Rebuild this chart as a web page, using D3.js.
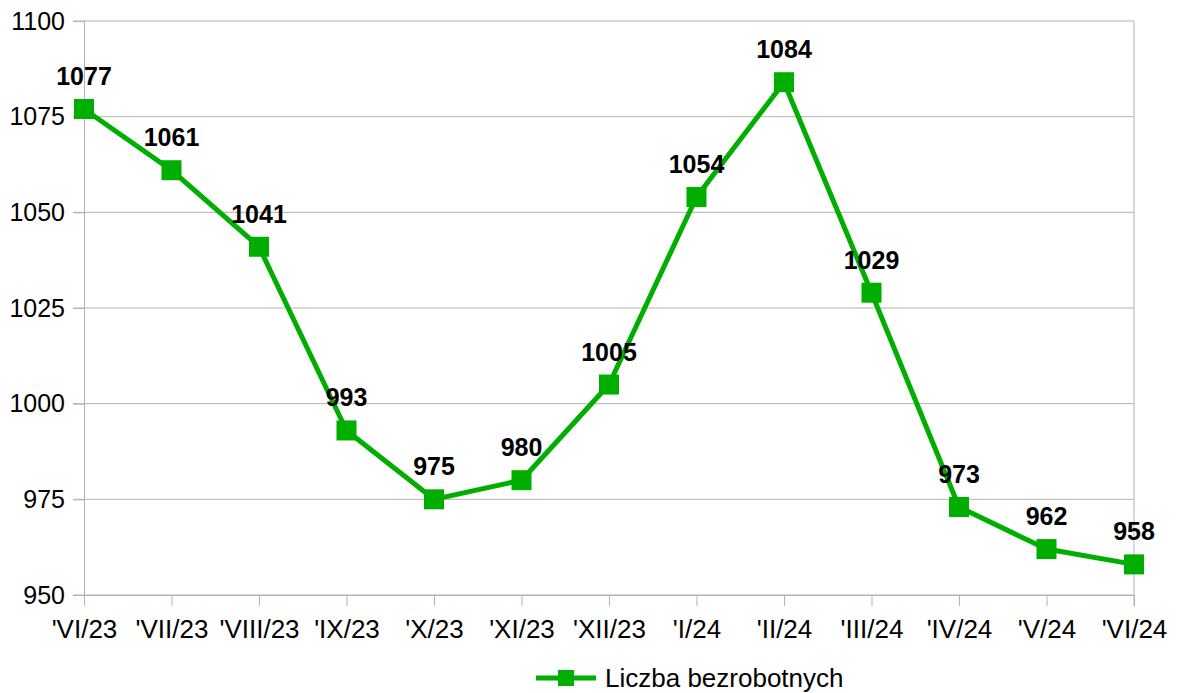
<!DOCTYPE html>
<html>
<head>
<meta charset="UTF-8">
<script src="https://d3js.org/d3.v7.min.js"></script>
<style>
  body { margin: 0; background: #fff; }
  text { font-family: "Liberation Sans", Arial, sans-serif; }
</style>
</head>
<body>
<div id="chart"></div>
<script>
// data
const months = ["'VI/23", "'VII/23", "'VIII/23", "'IX/23", "'X/23", "'XI/23", "'XII/23",
                "'I/24", "'II/24", "'III/24", "'IV/24", "'V/24", "'VI/24"];
const values = [1077, 1061, 1041, 993, 975, 980, 1005, 1054, 1084, 1029, 973, 962, 958];
const yTicks = [950, 975, 1000, 1025, 1050, 1075, 1100];
const seriesName = "Liczba bezrobotnych";

const width = 1177, height = 693;
const margin = {top: 21, right: 43, bottom: 98, left: 84};
const green = "#00ae00";

const svg = d3.select("#chart").append("svg")
  .attr("width", width)
  .attr("height", height);

const x = d3.scalePoint()
  .domain(months)
  .range([margin.left, width - margin.right]);

const y = d3.scaleLinear()
  .domain([950, 1100])
  .range([height - margin.bottom, margin.top]);

// horizontal grid
svg.append("g")
  .selectAll("line")
  .data(yTicks)
  .join("line")
    .attr("x1", margin.left - 11)
    .attr("x2", width - margin.right)
    .attr("y1", d => y(d))
    .attr("y2", d => y(d))
    .attr("stroke", "#b3b3b3")
    .attr("stroke-width", 1);

// y axis
const yAxis = svg.append("g")
  .attr("transform", `translate(${margin.left},0)`)
  .call(d3.axisLeft(y).tickValues(yTicks).tickFormat(d3.format("d")).tickSize(11).tickPadding(8));
yAxis.select(".domain").attr("stroke", "#b3b3b3");
yAxis.selectAll(".tick line").attr("stroke", "#b3b3b3");
yAxis.selectAll("text").attr("font-size", 25).attr("fill", "#000")
  .attr("font-family", "Liberation Sans, Arial, sans-serif");

// x axis
const xAxis = svg.append("g")
  .attr("transform", `translate(0,${height - margin.bottom})`)
  .call(d3.axisBottom(x).tickSize(11).tickPadding(14).tickSizeOuter(0));
xAxis.select(".domain").attr("stroke", "#b3b3b3");
xAxis.selectAll(".tick line").attr("stroke", "#b3b3b3");
xAxis.selectAll("text").attr("font-size", 26).attr("fill", "#000")
  .attr("font-family", "Liberation Sans, Arial, sans-serif");

// right border line
svg.append("line")
  .attr("x1", width - margin.right).attr("x2", width - margin.right)
  .attr("y1", margin.top).attr("y2", height - margin.bottom + 11)
  .attr("stroke", "#b3b3b3");

// series line
const line = d3.line()
  .x((d, i) => x(months[i]))
  .y(d => y(d));

svg.append("path")
  .datum(values)
  .attr("fill", "none")
  .attr("stroke", green)
  .attr("stroke-width", 5)
  .attr("stroke-linejoin", "round")
  .attr("d", line);

// markers
const ms = 20;
svg.append("g")
  .selectAll("rect")
  .data(values)
  .join("rect")
    .attr("x", (d, i) => x(months[i]) - ms / 2)
    .attr("y", d => y(d) - ms / 2)
    .attr("width", ms)
    .attr("height", ms)
    .attr("fill", green);

// value labels
svg.append("g")
  .selectAll("text")
  .data(values)
  .join("text")
    .attr("x", (d, i) => x(months[i]))
    .attr("y", d => y(d) - 24)
    .attr("text-anchor", "middle")
    .attr("font-size", 25)
    .attr("font-weight", "bold")
    .attr("fill", "#000")
    .text(d => d);

// legend
const lg = svg.append("g").attr("transform", "translate(536,678)");
lg.append("line")
  .attr("x1", 0).attr("x2", 60)
  .attr("stroke", green).attr("stroke-width", 5);
lg.append("rect")
  .attr("x", 22).attr("y", -8).attr("width", 16).attr("height", 16)
  .attr("fill", green);
lg.append("text")
  .attr("x", 69).attr("y", 9)
  .attr("font-size", 26)
  .attr("fill", "#000")
  .text(seriesName);
</script>
</body>
</html>
